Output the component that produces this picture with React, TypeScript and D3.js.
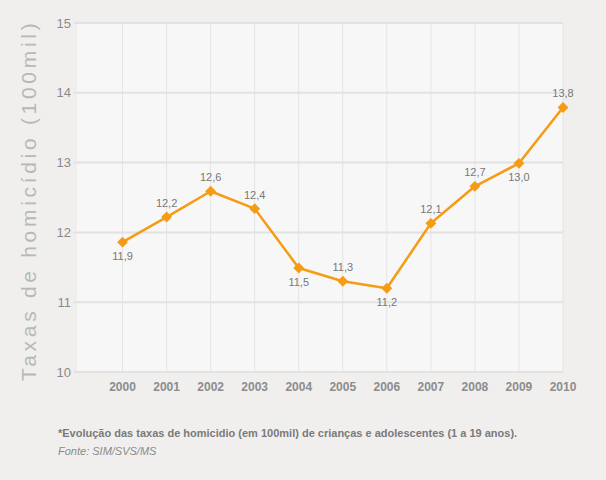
import React from "react";
import * as d3 from "d3";

const years = [2000, 2001, 2002, 2003, 2004, 2005, 2006, 2007, 2008, 2009, 2010];
const rates = [11.86, 12.22, 12.59, 12.34, 11.49, 11.3, 11.2, 12.13, 12.66, 12.99, 13.79];
const rateLabels = ["11,9", "12,2", "12,6", "12,4", "11,5", "11,3", "11,2", "12,1", "12,7", "13,0", "13,8"];
const labelBelow = [true, false, false, false, true, false, true, false, false, true, false];
const yTicks = [10, 11, 12, 13, 14, 15];
const yTitle = "Taxas de homicídio (100mil)";
const caption = "*Evolução das taxas de homicidio (em 100mil) de crianças e adolescentes (1 a 19 anos).";
const source = "Fonte: SIM/SVS/MS";

const W = 606;
const H = 480;
const left = 77;
const right = 563;
const top = 23;
const bottom = 372;

export default function App() {
  const x = d3.scaleLinear().domain([1999, 2010]).range([left + 1.5, right]);
  const y = d3.scaleLinear().domain([10, 15]).range([bottom, top]);
  const line = d3
    .line<number>()
    .x((_, i) => x(years[i]))
    .y((d) => y(d));
  const font = "'Liberation Sans', Arial, sans-serif";
  const diamond = d3.symbol(d3.symbolDiamond2, 75)();
  return (
    <div style={{ position: "fixed", left: 0, top: 0, width: W, height: H }}>
      <svg width={W} height={H} style={{ display: "block", fontFamily: font }}>
        <rect x={0} y={0} width={W} height={H} fill="#f0efee" />
        <rect x={left} y={top} width={right - left} height={bottom - top} fill="#f7f7f7" />
        {years.map((yr) => (
          <line key={"v" + yr} x1={x(yr)} x2={x(yr)} y1={top} y2={bottom} stroke="#e4e4e4" strokeWidth={1} />
        ))}
        {yTicks.map((t) => (
          <g key={"h" + t}>
            <line x1={left - 3} x2={right} y1={y(t)} y2={y(t)} stroke="#e2e2e2" strokeWidth={2} />
            <text x={71} y={y(t)} dy="0.35em" textAnchor="end" fontSize={13} fill="#8a8a8a">
              {t}
            </text>
          </g>
        ))}
        {years.map((yr) => (
          <text key={"xl" + yr} x={x(yr)} y={391} textAnchor="middle" fontSize={12} fontWeight="bold" fill="#8c8c8c">
            {yr}
          </text>
        ))}
        <text
          transform={`translate(36, 381) rotate(-90)`}
          textAnchor="start"
          fontSize={21}
          letterSpacing={3.7}
          fill="#b8b8b8"
        >
          {yTitle}
        </text>
        <path d={line(rates) ?? ""} fill="none" stroke="#f59b14" strokeWidth={2.5} strokeLinejoin="round" />
        {rates.map((v, i) => (
          <path key={"m" + i} d={diamond ?? ""} transform={`translate(${x(years[i])},${y(v)})`} fill="#f59b14" />
        ))}
        {rates.map((v, i) => (
          <text
            key={"l" + i}
            x={x(years[i])}
            y={labelBelow[i] ? y(v) + 18 : y(v) - 10}
            textAnchor="middle"
            fontSize={11}
            fill="#777"
          >
            {rateLabels[i]}
          </text>
        ))}
        <text x={58} y={437} fontSize={11} fontWeight="bold" fill="#7a7a7a">
          {caption}
        </text>
        <text x={58} y={455} fontSize={11} fontStyle="italic" fill="#8a8a8a">
          {source}
        </text>
      </svg>
    </div>
  );
}
